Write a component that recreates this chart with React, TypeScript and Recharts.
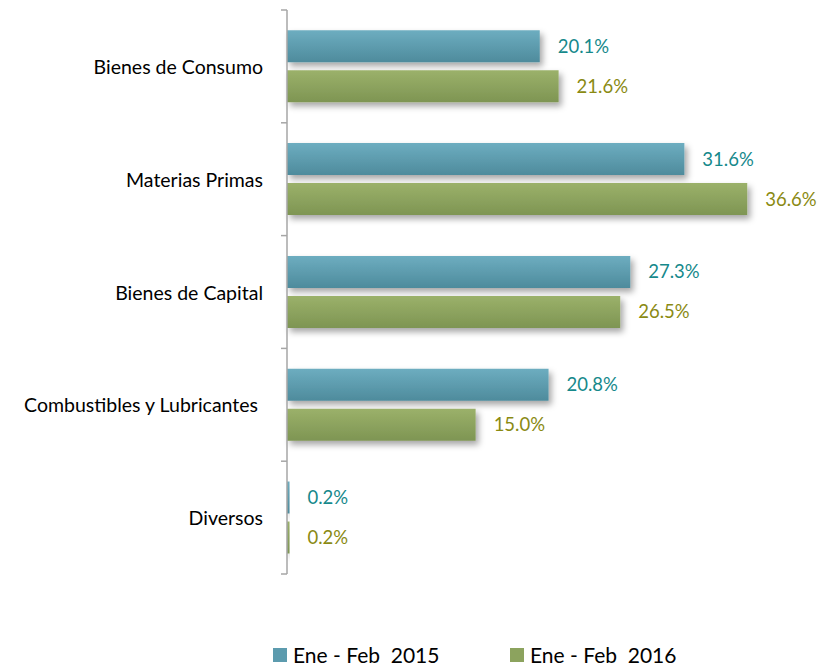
import { Bar, BarChart, LabelList, Legend, XAxis, YAxis } from "recharts";

const CATEGORIES = [
  "Bienes de Consumo",
  "Materias Primas",
  "Bienes de Capital",
  "Combustibles y Lubricantes ",
  "Diversos",
];
const VALUES_2015 = [20.1, 31.6, 27.3, 20.8, 0.2];
const VALUES_2016 = [21.6, 36.6, 26.5, 15.0, 0.2];
const SERIES_NAMES = ["Ene - Feb  2015", "Ene - Feb  2016"];
const X_DOMAIN = [0, 40];

const data = CATEGORIES.map((name, i) => ({
  name,
  y2015: VALUES_2015[i],
  y2016: VALUES_2016[i],
}));

const FONT = "Lato, 'Open Sans', sans-serif";
const AXIS_COLOR = "#a6a6a6";
const TEAL = "#5c9bae";
const GREEN = "#8ca35e";
const TEAL_TEXT = "#16898b";
const OLIVE_TEXT = "#8a8a12";

const WIDTH = 826;
const HEIGHT = 667;
const MARGIN = { top: 10, right: 36, left: 0, bottom: 0 };
const YAXIS_WIDTH = 287;
const AXIS_X = MARGIN.left + YAXIS_WIDTH;

function CategoryTick(props: any) {
  const { y, payload, index } = props;
  const half = payload.offset;
  const last = index === CATEGORIES.length - 1;
  return (
    <g>
      <line x1={AXIS_X - 6} x2={AXIS_X} y1={y - half} y2={y - half} stroke={AXIS_COLOR} strokeWidth={1.5} />
      {last && (
        <line x1={AXIS_X - 6} x2={AXIS_X} y1={y + half} y2={y + half} stroke={AXIS_COLOR} strokeWidth={1.5} />
      )}
      <text
        x={AXIS_X - 24}
        y={y}
        textAnchor="end"
        dominantBaseline="central"
        fontSize={19.5}
        fill="#000"
        fontFamily={FONT}
        style={{ whiteSpace: "pre" }}
      >
        {payload.value}
      </text>
    </g>
  );
}

function LegendContent() {
  const items = [
    { name: SERIES_NAMES[0], color: TEAL },
    { name: SERIES_NAMES[1], color: GREEN },
  ];
  return (
    <div style={{ display: "flex", paddingLeft: 273, fontFamily: FONT, fontSize: 21, lineHeight: "24px" }}>
      {items.map((it) => (
        <div key={it.name} style={{ display: "flex", alignItems: "center", width: 237 }}>
          <span style={{ display: "inline-block", width: 14, height: 14, background: it.color, marginRight: 6 }} />
          <span style={{ whiteSpace: "pre", color: "#000" }}>{it.name}</span>
        </div>
      ))}
    </div>
  );
}

const fmt = (v: any) => `${Number(v).toFixed(1)}%`;

export default function App() {
  return (
    <div style={{ position: "absolute", left: 0, top: 0, background: "#fff" }}>
      <BarChart
        width={WIDTH}
        height={HEIGHT}
        data={data}
        layout="vertical"
        margin={MARGIN}
        barGap={8}
        barCategoryGap="18%"
        style={{ fontFamily: FONT }}
      >
        <defs>
          <linearGradient id="tealFill" x1="0" y1="0" x2="0" y2="1">
            <stop offset="0%" stopColor="#6dadc0" />
            <stop offset="100%" stopColor="#4e8b9c" />
          </linearGradient>
          <linearGradient id="greenFill" x1="0" y1="0" x2="0" y2="1">
            <stop offset="0%" stopColor="#9bb16a" />
            <stop offset="100%" stopColor="#7e9553" />
          </linearGradient>
          <filter id="barShadow" x="-5%" y="-20%" width="115%" height="160%">
            <feDropShadow dx="3" dy="4" stdDeviation="3" floodColor="#000" floodOpacity="0.35" />
          </filter>
        </defs>
        <XAxis type="number" domain={X_DOMAIN} hide />
        <YAxis
          type="category"
          dataKey="name"
          width={YAXIS_WIDTH}
          axisLine={{ stroke: AXIS_COLOR, strokeWidth: 1.5 }}
          tickLine={false}
          tick={<CategoryTick />}
          interval={0}
        />
        <Legend
          verticalAlign="bottom"
          content={<LegendContent />}
          wrapperStyle={{ left: 0, width: WIDTH, paddingTop: 69, paddingBottom: 0 }}
        />
        <Bar
          dataKey="y2015"
          name={SERIES_NAMES[0]}
          fill="url(#tealFill)"
          filter="url(#barShadow)"
          isAnimationActive={false}
        >
          <LabelList
            dataKey="y2015"
            position="right"
            offset={18}
            formatter={fmt}
            fill={TEAL_TEXT}
            fontSize={18.5}
            fontFamily={FONT}
          />
        </Bar>
        <Bar
          dataKey="y2016"
          name={SERIES_NAMES[1]}
          fill="url(#greenFill)"
          filter="url(#barShadow)"
          isAnimationActive={false}
        >
          <LabelList
            dataKey="y2016"
            position="right"
            offset={18}
            formatter={fmt}
            fill={OLIVE_TEXT}
            fontSize={18.5}
            fontFamily={FONT}
          />
        </Bar>
      </BarChart>
    </div>
  );
}
